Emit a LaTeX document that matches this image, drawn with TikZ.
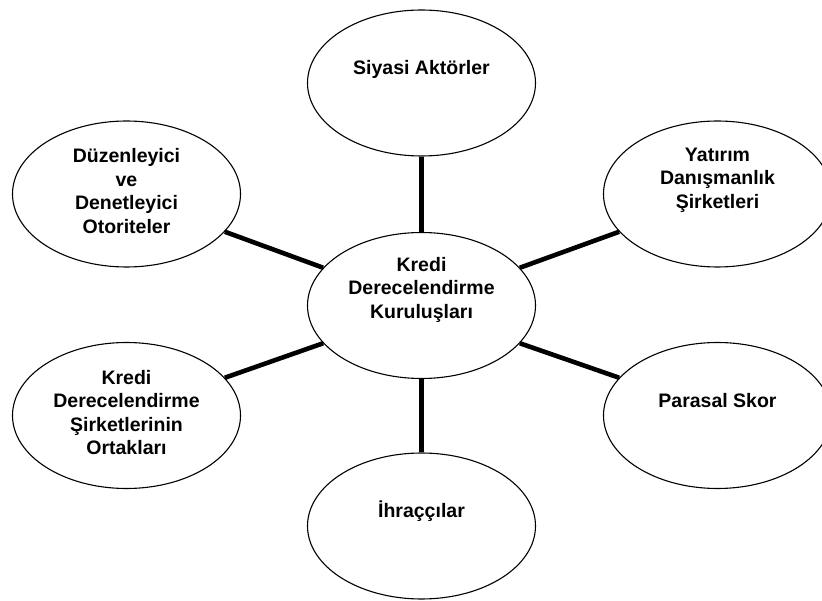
\documentclass[tikz,border=0pt]{standalone}
\usepackage{fontspec}
\setmainfont{Liberation Sans}
\usetikzlibrary{shapes.geometric}
\tikzset{
  bubble/.style={ellipse, draw=black, line width=1.1pt, fill=white, minimum width=228pt, minimum height=146pt, inner sep=0pt},
  txt/.style={align=center, inner sep=0pt, font=\bfseries\fontsize{19.5}{23.5}\selectfont},
  link/.style={line width=4.6pt, black}
}
\begin{document}
\begin{tikzpicture}[x=1pt,y=-1pt]
\useasboundingbox (0,0) rectangle (822,601);
\clip (0,0) rectangle (822,601);
\fill[white] (0,0) rectangle (822,601);
\node[bubble] (kr) at (421.5,305.5) {};
\node[bubble] (sa) at (421.5,83) {};
\node[bubble] (ih) at (421.5,526) {};
\node[bubble] (dz) at (126.5,194) {};
\node[bubble] (ko) at (126.5,415.5) {};
\node[bubble] (ya) at (717.5,194) {};
\node[bubble] (ps) at (717.5,415.5) {};
\draw[link] (sa.south) -- (kr.north);
\draw[link] (kr.south) -- (ih.north);
\draw[link] (dz.-21) -- (kr.159);
\draw[link] (ko.21) -- (kr.-159);
\draw[link] (kr.21) -- (ya.-159);
\draw[link] (kr.-21) -- (ps.159);
\node[txt] (tkr) at ([yshift=16pt]kr.center) {Kredi\\Derecelendirme\\Kuruluşları};
\node[txt] (tsa) at ([yshift=14pt]sa.center) {Siyasi Aktörler};
\node[txt] (tih) at ([yshift=15pt]ih.center) {İhraççılar};
\node[txt] (tdz) at ([yshift=3pt]dz.center) {Düzenleyici\\ve\\Denetleyici\\Otoriteler};
\node[txt] (tko) at ([yshift=3pt]ko.center) {Kredi\\Derecelendirme\\Şirketlerinin\\Ortakları};
\node[txt] (tya) at ([yshift=14pt]ya.center) {Yatırım\\Danışmanlık\\Şirketleri};
\node[txt] (tps) at ([yshift=14.5pt]ps.center) {Parasal Skor};
\end{tikzpicture}
\end{document}
